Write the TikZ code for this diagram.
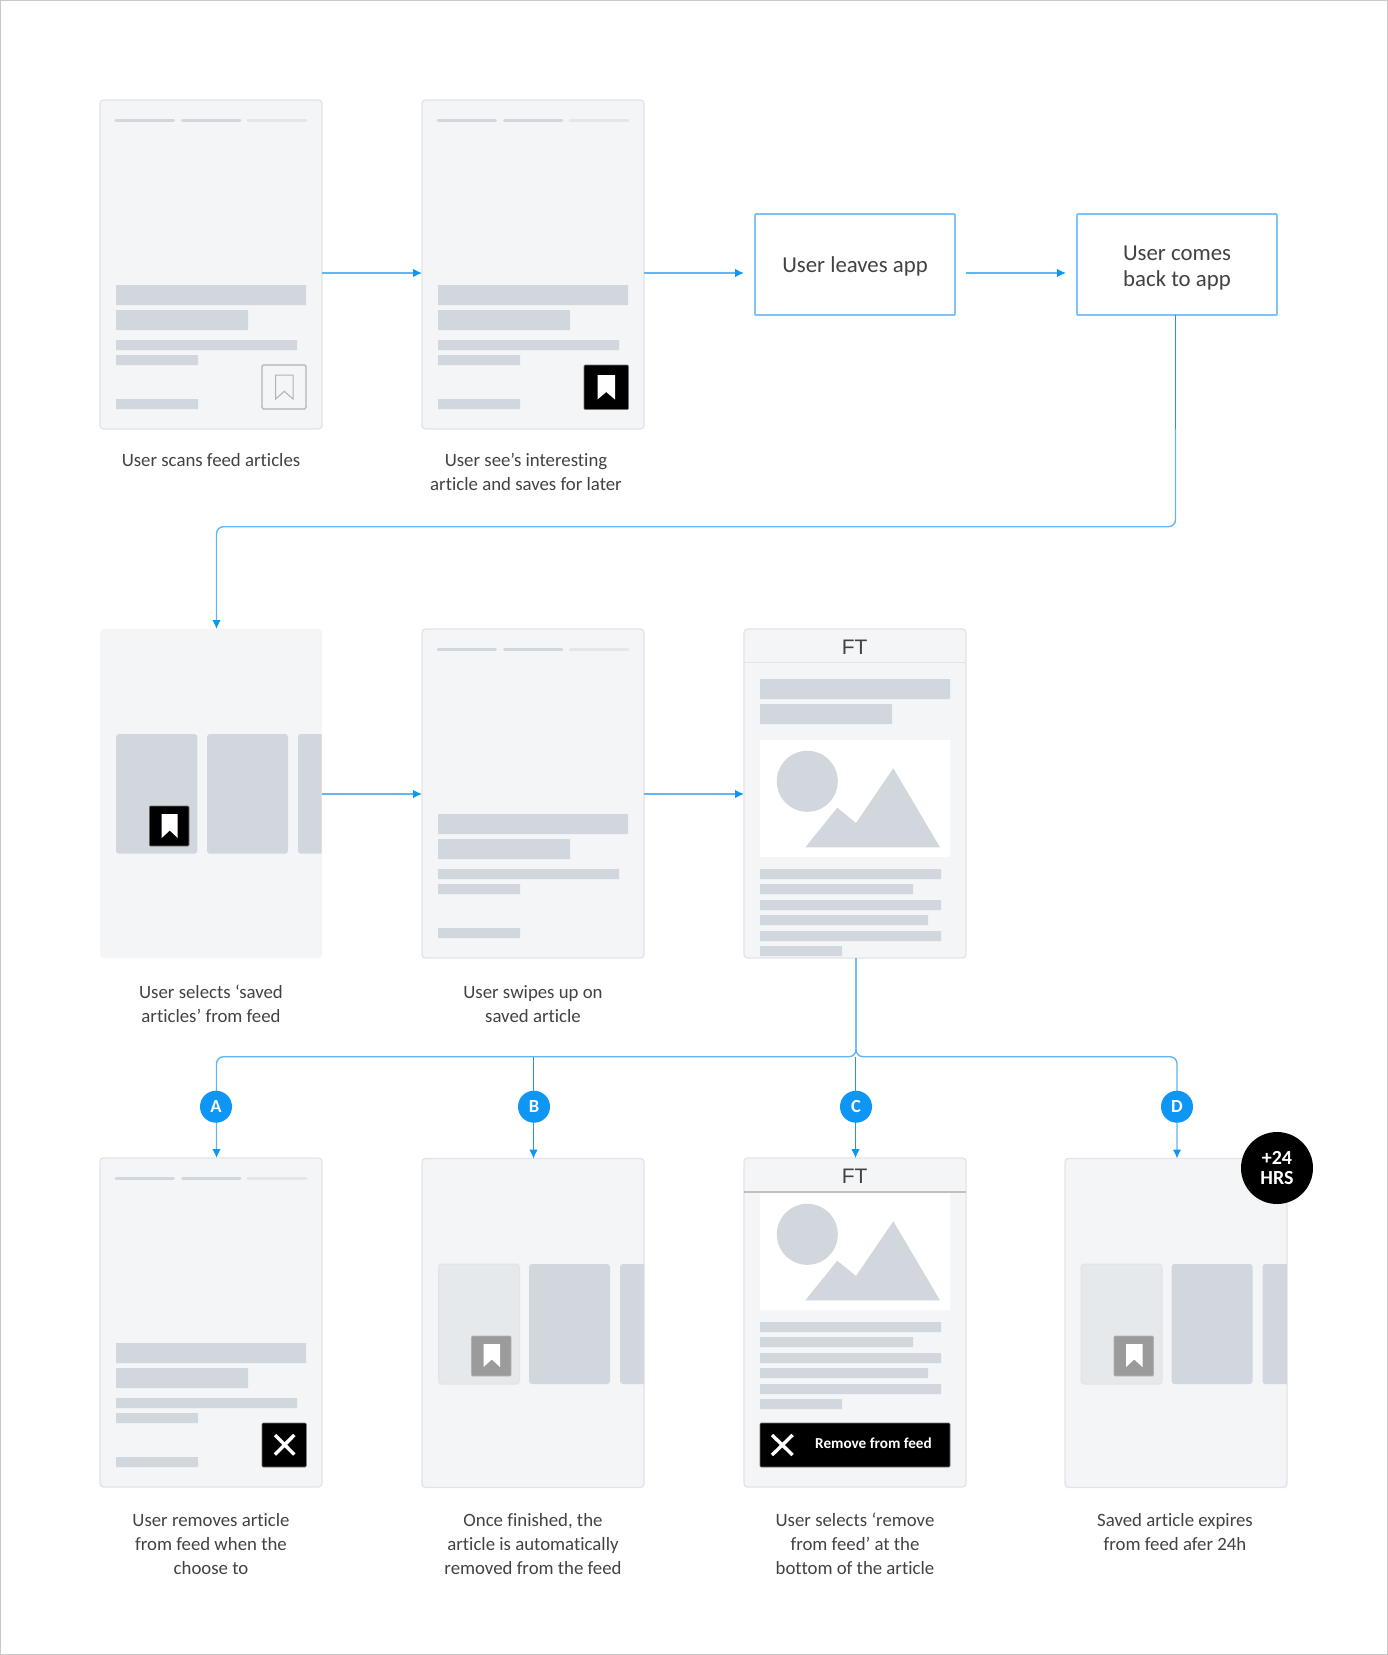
\documentclass[tikz,border=0pt]{standalone}
\usepackage{fontspec}
\setmainfont{Carlito}[Ligatures=NoCommon]
\newfontfamily\ftfont{Liberation Sans}
\usetikzlibrary{arrows.meta,calc}
\definecolor{wireblue}{HTML}{0E96F5}
\definecolor{wirelite}{HTML}{62B6F3}
\definecolor{boxblue}{HTML}{7FC2F3}
\definecolor{wirethin}{HTML}{2A93DC}
\definecolor{tipblue}{HTML}{0E96F5}
\definecolor{panelfill}{HTML}{F3F5F7}
\definecolor{panelline}{HTML}{E1E4E8}
\definecolor{barcol}{HTML}{D1D7DC}
\definecolor{barlite}{HTML}{E4E7EA}
\definecolor{textcol}{HTML}{424242}
\definecolor{framecol}{HTML}{C9C9C9}
\definecolor{cardlite}{HTML}{E6E9EC}
\definecolor{btngray}{HTML}{9B9B9B}
\tikzset{
  x=1pt,y=-1pt,
  panelbox/.style={draw=panelline,fill=panelfill,line width=1.3pt,rounded corners=3.5pt,minimum width=222pt,minimum height=329pt,inner sep=0pt,outer sep=0pt},
  panelplain/.style={panelbox,draw=none},
  wire/.style={draw=wirelite,line width=1.4pt},
  thinwire/.style={draw=wirethin,line width=1pt},
  tip/.style={-{Latex[length=9pt,width=8.5pt,color=tipblue]}},
  stepnode/.style={draw=boxblue,line width=1.6pt,rounded corners=0.8pt,fill=white,minimum width=200pt,minimum height=101pt,inner sep=0pt,outer sep=0pt},
  lab/.style={font=\fontsize{18.8}{24}\selectfont,text=textcol,align=center,anchor=base,inner sep=0pt},
  steplab/.style={font=\fontsize{22.8}{26}\selectfont,text=textcol,align=center,anchor=base,inner sep=0pt},
  badge/.style={circle,fill=wireblue,minimum size=32pt,inner sep=0pt,outer sep=0pt,text=white,font=\fontsize{18.5}{20}\selectfont\bfseries},
  ft/.style={font=\ftfont\fontsize{21}{24}\selectfont,text=textcol,inner sep=0pt},
  btn/.style={draw=black!55,line width=0.6pt,rounded corners=1pt},
}
% bars of a feed card, in coordinates relative to the panel corner
\newcommand{\feedbars}{%
  \draw[barcol,line width=3pt,line cap=round] (16,20)--(73.5,20) (82.5,20)--(140,20);
  \draw[barlite,line width=3pt,line cap=round] (148,20)--(206,20);
  \fill[barcol] (16,185) rectangle (206,205) (16,210) rectangle (148,230)
    (16,240) rectangle (197,250) (16,255) rectangle (98,265) (16,299) rectangle (98,309);
}
\newcommand{\ribbon}[5]{% x0 x1 y0 y1 notch
  \fill[#5] (#1,#3) -- (#2,#3) -- (#2,#4+0) -- ({(#1+#2)/2},{#4-7.5}) -- (#1,#4) -- cycle;
}
\newcommand{\crosslines}[4]{%
  \draw[white,line width=3.4pt] (#1,#2)--(#3,#4) (#1,#4)--(#3,#2);
}
\newcommand{\carousel}[2]{% #1 = first card x, #2 = panel right
  \fill[barcol,rounded corners=3pt] (#1+90.5,1264) rectangle (#1+171.5,1384);
  \fill[barcol] (#1+188,1264) [rounded corners=3pt] -- (#1+181.5,1264) -- (#1+181.5,1384) [sharp corners] -- (#2,1384) -- (#2,1264) -- cycle;
  \filldraw[fill=cardlite,draw=panelline,line width=1pt,rounded corners=3pt] (#1,1264) rectangle (#1+81,1384);
  \filldraw[fill=btngray,btn,draw=black!30] (#1+33,1336) rectangle (#1+72.5,1376);
  \ribbon{#1+45}{#1+61.5}{1344}{1367}{white}
}
\newcommand{\article}[1]{% y offset for the image and text block
  \begin{scope}[yshift=-#1pt]
  \fill[white] (760,740) rectangle (950,857);
  \fill[barcol] (807.3,781.3) circle[radius=30.5];
  \fill[barcol] (805.3,847.3)--(837.3,807.7)--(856,823)--(893.3,768.3)--(940,847.3)--cycle;
  \fill[barcol] (760,869) rectangle (941,879) (760,884) rectangle (913,894)
    (760,900) rectangle (941,910) (760,915) rectangle (928,925)
    (760,931) rectangle (941,941) (760,946) rectangle (842,956);
  \end{scope}
}
\begin{document}
\begin{tikzpicture}
\useasboundingbox (0,0) rectangle (1388,1655);
\fill[white] (0,0) rectangle (1388,1655);
\draw[framecol,line width=1pt] (0.5,0.5) rectangle (1387.5,1654.5);

% ---- row 1
\node[panelbox] (p1) at (211,264.5) {};
\begin{scope}[shift={(100,100)}]\feedbars\end{scope}
\draw[draw=black!30,line width=1.2pt,rounded corners=1.5pt] (262,365) rectangle (306,409);
\draw[black!30,line width=1pt,line join=miter] (275.6,375)--(293,375)--(293,399)--(284.3,391.3)--(275.6,399)--cycle;

\node[panelbox] (p2) at (533,264.5) {};
\begin{scope}[shift={(422,100)}]\feedbars\end{scope}
\filldraw[fill=black,btn] (584,365) rectangle (628.5,409.5);
\ribbon{597.5}{615}{375}{399.5}{white}

\node[stepnode] (leave) at (855,264.5) {};
\node[steplab] (leavet) at (855,272.7) {User leaves app};
\node[stepnode] (back) at (1177,264.5) {};
\node[steplab] (backt) at (1177,286) {User comes\\back to app};

\node[lab] (c1) at (211,466) {User scans feed articles};
\node[lab] (c2) at (526,490) {User see’s interesting\\article and saves for later};

% ---- row 2
\node[panelplain] (p3) at (211,793.5) {};
\fill[barcol,rounded corners=3pt] (116,734) rectangle (197.3,853.7);
\fill[barcol,rounded corners=3pt] (207,734) rectangle (288,853.7);
\fill[barcol] (304,734) [rounded corners=3pt] -- (298,734) -- (298,853.7) [sharp corners] -- (321.7,853.7) -- (321.7,734) -- cycle;
\filldraw[fill=black,btn] (149.3,806) rectangle (189,846);
\ribbon{161.7}{177.7}{814}{838}{white}

\node[panelbox] (p4) at (533,793.5) {};
\begin{scope}[shift={(422,629)}]\feedbars\end{scope}

\node[panelbox] (p5) at (855,793.5) {};
\draw[panelline,line width=1.3pt] (744,662.7)--(966,662.7);
\node[ft] (ft1) at (854.7,647.5) {FT};
\fill[barcol] (760,679) rectangle (950,699) (760,704) rectangle (892,724);
\article{0}

\node[lab] (c3) at (211,1022) {User selects ‘saved\\articles’ from feed};
\node[lab] (c4) at (533,1022) {User swipes up on\\saved article};

% ---- row 3
\node[panelbox] (a1) at (211,1322.5) {};
\begin{scope}[shift={(100,1158)}]\feedbars\end{scope}
\filldraw[fill=black,btn] (262,1423) rectangle (306.3,1467);
\crosslines{275}{1435}{294.3}{1454.5}

\node[panelbox] (b1) at (533,1323) {};
\carousel{438.5}{644}

\node[panelbox] (c1p) at (855,1322.5) {};
\draw[black!25,line width=2pt] (744,1192)--(966,1192);
\node[ft] (ft2) at (854.7,1176.5) {FT};
\article{453}
\filldraw[fill=black,btn] (760,1423) rectangle (950,1467);
\crosslines{772}{1435}{792.6}{1455}
\node[font=\fontsize{15.2}{16}\selectfont\bfseries,text=white,inner sep=0pt] (rm) at (873.5,1443) {Remove from feed};

\node[panelbox] (d1) at (1176,1323) {};
\carousel{1081}{1287}

\node[lab] (c5) at (211,1574) {User removes article\\from feed when the\\choose to};
\node[lab] (c6) at (533,1574) {Once finished, the\\article is automatically\\removed from the feed};
\node[lab] (c7) at (855,1574) {User selects ‘remove\\from feed’ at the\\bottom of the article};
\node[lab] (c8) at (1175,1550) {Saved article expires\\from feed afer 24h};

% ---- connectors
\draw[wire,tip] ([yshift=-8.5pt]p1.east) -- ([yshift=-8.5pt]p2.west);
\draw[wire,tip] ([yshift=-8.5pt]p2.east) -- ([yshift=-8.5pt,xshift=-11pt]leave.west);
\draw[wire,tip] ([yshift=-8.5pt,xshift=10.5pt]leave.east) -- ([yshift=-8.5pt,xshift=-11pt]back.west);
\coordinate (turn) at (1175.5,526.7);
\coordinate (kink) at (1175.5,429);
\draw[wire,tip,rounded corners=7pt] (kink) -- (turn) -| ([xshift=5.5pt]p3.north);
\draw[thinwire] ([xshift=-1.5pt]back.south) -- (kink);
\draw[wire,tip] ([yshift=-0.5pt]p3.east) -- ([yshift=-0.5pt]p4.west);
\draw[wire,tip] ([yshift=-0.5pt]p4.east) -- ([yshift=-0.5pt]p5.west);

\coordinate (junction) at (856,1056.7);
\draw[wire,tip,rounded corners=7pt] ([xshift=1pt]p5.south) -- (junction) -| ([xshift=5.5pt]a1.north);
\draw[wire,tip,rounded corners=7pt] ([xshift=1pt]p5.south) -- (junction) -| ([xshift=1pt]d1.north);
\draw[thinwire,tip] (533.5,1056.7) -- ([xshift=0.5pt]b1.north);
\draw[thinwire,tip] (855.5,1056.7) -- ([xshift=0.5pt]c1p.north);

\node[badge] (ba) at (216,1106.7) {A};
\node[badge] (bb) at (534,1106.7) {B};
\node[badge] (bc) at (856,1106.7) {C};
\node[badge] (bd) at (1177,1106.7) {D};
\node[circle,fill=black,minimum size=72pt,inner sep=0pt,text=white,align=center,font=\fontsize{20}{20.5}\selectfont\bfseries] (hrs) at (1277,1168) {+24\\HRS};
\end{tikzpicture}
\end{document}
